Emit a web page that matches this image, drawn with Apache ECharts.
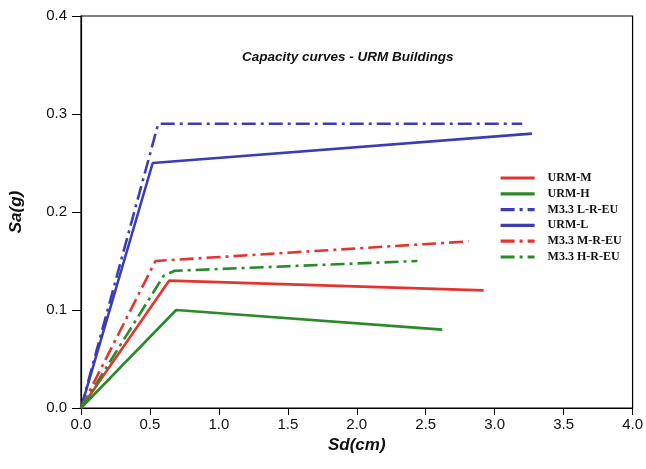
<!DOCTYPE html>
<html>
<head>
<meta charset="utf-8">
<script src="https://cdn.jsdelivr.net/npm/echarts@6/dist/echarts.min.js"></script>
<style>
  html, body { margin: 0; padding: 0; background: #fff; }
  #chart { width: 646px; height: 469px; }
</style>
</head>
<body>
<div id="chart"></div>
<script>
// capacity curves, points are [Sd(cm), Sa(g)]
const seriesNames = ['URM-M', 'URM-H', 'M3.3 L-R-EU', 'URM-L', 'M3.3 M-R-EU', 'M3.3 H-R-EU']
const urmM = [[0, 0], [0.64, 0.13], [2.92, 0.12]]
const urmH = [[0, 0], [0.69, 0.10], [2.62, 0.08]]
const m33L = [[0, 0], [0.56, 0.29], [3.20, 0.29]]
const urmL = [[0, 0], [0.52, 0.25], [3.27, 0.28]]
const m33M = [[0, 0], [0.54, 0.15], [2.81, 0.17]]
const m33H = [[0, 0], [0.60, 0.135], [0.68, 0.14], [2.44, 0.15]]
const xTicks = ['0.0', '0.5', '1.0', '1.5', '2.0', '2.5', '3.0', '3.5', '4.0']
const yTicks = ['0.0', '0.1', '0.2', '0.3', '0.4']

const RED = '#e3342f'
const GREEN = '#2a8a2a'
const BLUE = '#3b3db3'
const dashDot = [14, 5, 3, 5]

const lineSeries = (name, data, color, dashed) => ({
  name: name,
  type: 'line',
  data: data,
  symbol: 'none',
  animation: false,
  lineStyle: { color: color, width: 2.6, type: dashed ? dashDot : 'solid' },
  itemStyle: { color: color }
})

const chart = echarts.init(document.getElementById('chart'))
chart.setOption({
  backgroundColor: '#fff',
  animation: false,
  title: {
    text: 'Capacity curves - URM Buildings',
    left: 237,
    top: 45,
    textStyle: { fontFamily: 'Liberation Sans', fontSize: 13.5, fontStyle: 'italic', fontWeight: 'bold', color: '#111' }
  },
  grid: {
    left: 78, right: 13, top: 16, bottom: 61,
    show: true, borderColor: '#000', borderWidth: 1.2, backgroundColor: 'transparent'
  },
  legend: {
    orient: 'vertical',
    left: 494,
    top: 167,
    itemWidth: 34,
    itemHeight: 12,
    itemGap: 3.8,
    data: seriesNames,
    itemStyle: { opacity: 0 },
    lineStyle: { width: 3.2 },
    textStyle: { fontFamily: 'Liberation Serif', fontSize: 12, fontWeight: 'bold', color: '#111', padding: [0, 0, 0, 8] }
  },
  xAxis: {
    type: 'value',
    min: 0, max: 4, interval: 0.5,
    name: 'Sd(cm)',
    nameLocation: 'middle',
    nameGap: 28,
    nameTextStyle: { fontFamily: 'Liberation Sans', fontSize: 17, fontStyle: 'italic', fontWeight: 'bold', color: '#111' },
    axisLine: { show: true, lineStyle: { color: '#000', width: 1.2 } },
    axisTick: { show: true, inside: false, length: 7, lineStyle: { color: '#000' } },
    axisLabel: { fontFamily: 'Liberation Sans', fontSize: 15, color: '#111', margin: 9, formatter: v => xTicks[Math.round(v * 2)] },
    splitLine: { show: false }
  },
  yAxis: {
    type: 'value',
    min: 0, max: 0.4, interval: 0.1,
    name: 'Sa(g)',
    nameLocation: 'middle',
    nameGap: 56,
    nameTextStyle: { fontFamily: 'Liberation Sans', fontSize: 17, fontStyle: 'italic', fontWeight: 'bold', color: '#111' },
    axisLine: { show: true, lineStyle: { color: '#000', width: 1.2 } },
    axisTick: { show: true, inside: false, length: 9, lineStyle: { color: '#000' } },
    axisLabel: { fontFamily: 'Liberation Sans', fontSize: 15, color: '#111', margin: 14, formatter: v => yTicks[Math.round(v * 10)] },
    splitLine: { show: false }
  },
  series: [
    lineSeries('URM-M', urmM, RED, false),
    lineSeries('URM-H', urmH, GREEN, false),
    lineSeries('M3.3 L-R-EU', m33L, BLUE, true),
    lineSeries('URM-L', urmL, BLUE, false),
    lineSeries('M3.3 M-R-EU', m33M, RED, true),
    lineSeries('M3.3 H-R-EU', m33H, GREEN, true)
  ]
})
</script>
</body>
</html>
